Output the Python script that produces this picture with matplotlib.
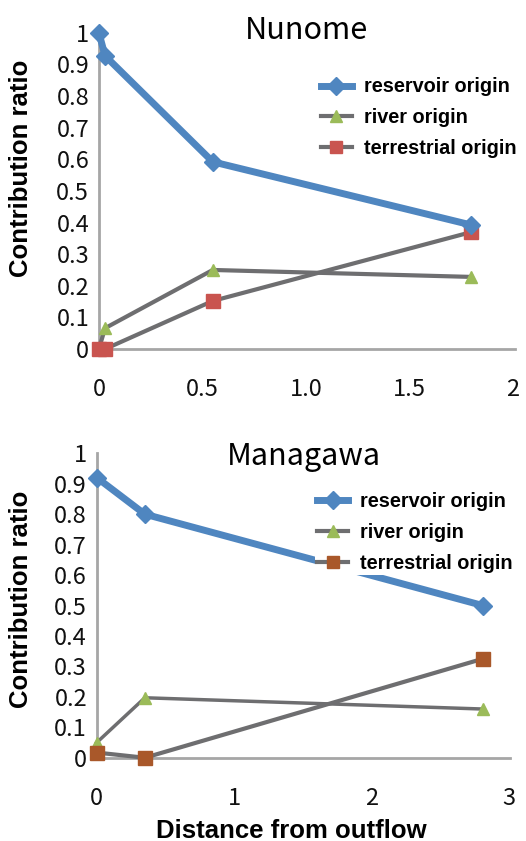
import matplotlib.pyplot as plt
from matplotlib.lines import Line2D

# Nunome
nun_x = [0, 0.03, 0.55, 1.8]
nun_reservoir = [1.0, 0.927, 0.592, 0.392]
nun_river = [0, 0.066, 0.25, 0.228]
nun_terrestrial = [0, 0, 0.152, 0.37]

# Managawa
man_x = [0, 0.35, 2.81]
man_reservoir = [0.92, 0.80, 0.50]
man_river = [0.05, 0.197, 0.16]
man_terrestrial = [0.017, 0, 0.325]

y_ticks = [0, 0.1, 0.2, 0.3, 0.4, 0.5, 0.6, 0.7, 0.8, 0.9, 1]
y_labels = ["0", "0.1", "0.2", "0.3", "0.4", "0.5", "0.6", "0.7", "0.8", "0.9", "1"]
nun_xticks = [0, 0.5, 1.0, 1.5, 2]
nun_xlabels = ["0", "0.5", "1.0", "1.5", "2"]
man_xticks = [0, 1, 2, 3]
man_xlabels = ["0", "1", "2", "3"]

BLUE = "#4F86C0"
GRAY = "#6E6E70"
GREEN = "#9BBB59"
RED = "#C9544F"
BROWN = "#A9582A"
AXIS = "#A6A6A6"
TICKFONT = "Noto Sans CJK JP"
BOLDFONT = "Liberation Sans"


def draw_panel(ax, x, res, riv, ter, sq_color, xticks, xlabels, xmax, title,
               title_y, leg_anchor, river_lw):
    ax.plot(x, riv, color=GRAY, lw=river_lw, marker="^", ms=9,
            mfc=GREEN, mec=GREEN, zorder=3, clip_on=False)
    ax.plot(x, ter, color=GRAY, lw=3.0, marker="s", ms=10,
            mfc=sq_color, mec=sq_color, zorder=3, clip_on=False)
    ax.plot(x, res, color=BLUE, lw=5.0, marker="D", ms=9,
            mfc=BLUE, mec=BLUE, zorder=4, clip_on=False)

    ax.set_xlim(0, xmax)
    ax.set_ylim(0, 1)
    for s in ["top", "right"]:
        ax.spines[s].set_visible(False)
    for s in ["left", "bottom"]:
        ax.spines[s].set_color(AXIS)
        ax.spines[s].set_linewidth(2.0)
        ax.spines[s].set_zorder(1)

    ax.set_yticks(y_ticks)
    ax.set_yticklabels(y_labels, fontfamily=TICKFONT, fontsize=17, color="#111111")
    ax.set_xticks(xticks)
    ax.set_xticklabels(xlabels, fontfamily=TICKFONT, fontsize=17, color="#111111")
    ax.tick_params(axis="both", length=0)
    ax.tick_params(axis="x", pad=21)
    ax.tick_params(axis="y", pad=7)

    ax.set_title(title, fontfamily=TICKFONT, fontsize=22, y=title_y, pad=0)
    ax.set_ylabel("Contribution ratio", fontfamily=BOLDFONT, fontweight="bold",
                  fontsize=18.5)

    handles = [
        Line2D([], [], color=BLUE, lw=5.0, marker="D", ms=9, mfc=BLUE, mec=BLUE),
        Line2D([], [], color=GRAY, lw=3.0, marker="^", ms=8, mfc=GREEN, mec=GREEN),
        Line2D([], [], color=GRAY, lw=3.0, marker="s", ms=9, mfc=sq_color, mec=sq_color),
    ]
    leg = ax.legend(handles, ["reservoir origin", "river origin", "terrestrial origin"],
                    loc="upper left", bbox_to_anchor=leg_anchor, frameon=True,
                    handlelength=1.6, handletextpad=0.6, labelspacing=0.6,
                    borderpad=0.1, borderaxespad=0,
                    prop={"family": BOLDFONT, "weight": "bold", "size": 14.3})
    leg.get_frame().set_facecolor("white")
    leg.get_frame().set_edgecolor("none")
    leg.get_frame().set_alpha(1)
    leg.set_zorder(5)


fig = plt.figure(figsize=(5.26, 8.41), dpi=100)

ax1 = fig.add_axes([0.188, 0.585, 0.791, 0.376])
draw_panel(ax1, nun_x, nun_reservoir, nun_river, nun_terrestrial, RED,
           nun_xticks, nun_xlabels, 2.01, "Nunome", 0.98, (0.528, 0.865), 3.0)
ax1.yaxis.set_label_coords(-0.158, 0.57)

ax2 = fig.add_axes([0.184, 0.099, 0.786, 0.362])
draw_panel(ax2, man_x, man_reservoir, man_river, man_terrestrial, BROWN,
           man_xticks, man_xlabels, 3.01, "Managawa", 0.96, (0.527, 0.88), 2.5)
ax2.yaxis.set_label_coords(-0.155, 0.52)
ax2.set_xlabel("Distance from outflow", fontfamily=BOLDFONT, fontweight="bold",
               fontsize=18.5)
ax2.xaxis.set_label_coords(0.47, -0.2)

fig.savefig("out.png", dpi=100)
